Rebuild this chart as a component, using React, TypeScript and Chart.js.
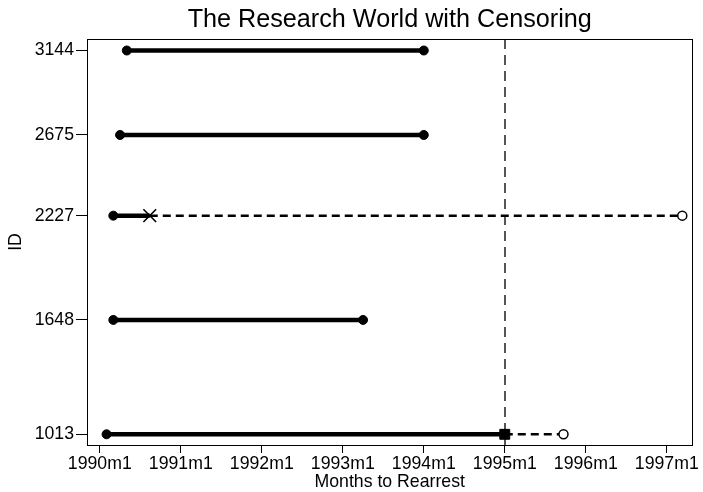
import React, { useEffect, useRef } from 'react';
import { Chart, registerables } from 'chart.js';

Chart.register(...registerables);

const TITLE = 'The Research World with Censoring';
const X_TITLE = 'Months to Rearrest';
const Y_TITLE = 'ID';

// Months counted from 1990m1 (0 = 1990m1)
const ids = [1013, 1648, 2227, 2675, 3144];
const releaseMonth = [1, 2, 2, 3, 4];
const observedEnd = [60, 39, 7.4, 48, 48];
const endType = ['censored', 'rearrest', 'dropout', 'rearrest', 'rearrest'];
const hiddenEnd: (number | null)[] = [68.7, null, 86.3, null, null];
const studyEndMonth = 60;
const xTickMonths = [0, 12, 24, 36, 48, 60, 72, 84];
const baseYear = 1990;

const FONT = "'Liberation Sans', Arial, Helvetica, sans-serif";

const markerStyle: Record<string, { style: string; radius: number; border: number }> = {
  rearrest: { style: 'circle', radius: 4.5, border: 1 },
  censored: { style: 'rect', radius: 7, border: 1 },
  dropout: { style: 'crossRot', radius: 9, border: 1.6 },
};

const monthLabel = (v: number) => `${baseYear + Math.floor(v / 12)}m${(v % 12) + 1}`;

const framePlugin = {
  id: 'frame',
  beforeDatasetsDraw(chart: any) {
    const { ctx, chartArea: a, scales } = chart;
    const px = Math.round(scales.x.getPixelForValue(studyEndMonth));
    ctx.save();
    ctx.strokeStyle = '#555555';
    ctx.lineWidth = 2;
    ctx.setLineDash([10, 6]);
    ctx.beginPath();
    ctx.moveTo(px, a.top);
    ctx.lineTo(px, a.bottom);
    ctx.stroke();
    ctx.restore();
  },
  afterDraw(chart: any) {
    const { ctx, chartArea: a } = chart;
    ctx.save();
    ctx.strokeStyle = '#000';
    ctx.lineWidth = 1;
    ctx.setLineDash([]);
    const l = Math.floor(a.left) + 0.5;
    const t = Math.floor(a.top) + 0.5;
    ctx.strokeRect(l, t, Math.round(a.right - a.left), Math.round(a.bottom - a.top));
    ctx.fillStyle = '#000';
    ctx.font = `25.2px ${FONT}`;
    ctx.textAlign = 'center';
    ctx.textBaseline = 'alphabetic';
    ctx.fillText(TITLE, (a.left + a.right) / 2, 27);
    ctx.restore();
  },
};

export default function App() {
  const ref = useRef<HTMLCanvasElement | null>(null);

  useEffect(() => {
    document.body.style.margin = '0';
    const canvas = ref.current;
    if (!canvas) return;

    const datasets: any[] = [];
    ids.forEach((id, i) => {
      const m = markerStyle[endType[i]];
      datasets.push({
        label: `obs ${id}`,
        data: [
          { x: releaseMonth[i], y: id },
          { x: observedEnd[i], y: id },
        ],
        showLine: true,
        borderColor: '#000',
        borderWidth: 4.5,
        backgroundColor: '#000',
        pointStyle: ['circle', m.style],
        pointRadius: [4.5, m.radius],
        pointBorderWidth: [1, m.border],
        pointBackgroundColor: '#000',
        pointBorderColor: '#000',
        order: 1,
      });
      const h = hiddenEnd[i];
      if (h !== null) {
        datasets.push({
          label: `hidden ${id}`,
          data: [
            { x: observedEnd[i], y: id },
            { x: h, y: id },
          ],
          showLine: true,
          borderColor: '#000',
          borderWidth: 2.5,
          borderDash: [8, 5],
          pointStyle: 'circle',
          pointRadius: [0, 4.5],
          pointBorderWidth: 1.5,
          pointBackgroundColor: '#fff',
          pointBorderColor: '#000',
          order: 2,
        });
      }
    });

    const tickFont = { family: FONT, size: 17.7, lineHeight: 1.1 };
    const titleFont = { family: FONT, size: 17.7, lineHeight: 1.07 };

    const chart = new Chart(canvas, {
      type: 'scatter',
      data: { datasets },
      plugins: [framePlugin],
      options: {
        responsive: false,
        maintainAspectRatio: false,
        animation: false,
        devicePixelRatio: 1,
        events: [],
        layout: { padding: { top: 39, right: 8, left: 0, bottom: 0 } },
        plugins: {
          legend: { display: false },
          tooltip: { enabled: false },
          title: { display: false },
        },
        scales: {
          x: {
            type: 'linear',
            min: -1.9,
            max: 87.8,
            afterBuildTicks: (s: any) => {
              s.ticks = xTickMonths.map((v) => ({ value: v }));
            },
            afterFit: (s: any) => {
              s.height = 47;
            },
            ticks: {
              autoSkip: false,
              maxRotation: 0,
              padding: 1,
              color: '#000',
              font: tickFont,
              callback: (v: any) => monthLabel(Number(v)),
            },
            grid: { drawOnChartArea: false, drawTicks: true, tickLength: 8, color: '#000', lineWidth: 1 },
            border: { display: true, color: '#000', width: 1 },
            title: { display: true, text: X_TITLE, color: '#000', font: titleFont, padding: { top: 0, bottom: 0 } },
          },
          y: {
            type: 'linear',
            min: 953.6,
            max: 3207.9,
            afterBuildTicks: (s: any) => {
              s.ticks = ids.map((v) => ({ value: v }));
            },
            afterFit: (s: any) => {
              s.width = 87;
            },
            ticks: {
              autoSkip: false,
              padding: 2,
              color: '#000',
              font: tickFont,
              callback: (v: any) => String(v),
            },
            grid: { drawOnChartArea: false, drawTicks: true, tickLength: 11, color: '#000', lineWidth: 1 },
            border: { display: true, color: '#000', width: 1 },
            title: { display: true, text: Y_TITLE, color: '#000', font: titleFont, padding: { top: 7, bottom: 0 } },
          },
        },
      },
    } as any);

    return () => chart.destroy();
  }, []);

  return (
    <div style={{ width: 703, height: 492, position: 'relative' }}>
      <canvas ref={ref} width={703} height={492} style={{ display: 'block', width: 703, height: 492 }} />
    </div>
  );
}
